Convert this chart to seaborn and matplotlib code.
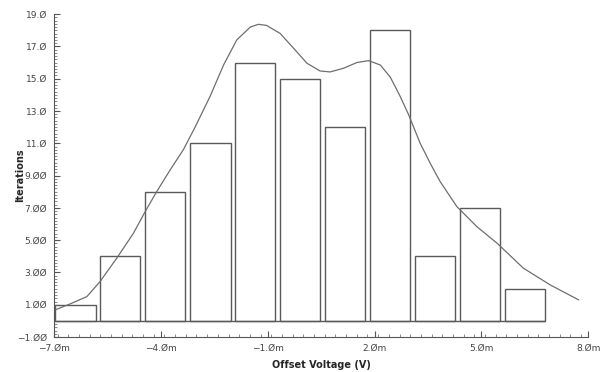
import numpy as np
import pandas as pd
import matplotlib
matplotlib.use("Agg")
import matplotlib.pyplot as plt
from matplotlib.ticker import MultipleLocator, FixedLocator
import seaborn as sns

# histogram bins (mV) and counts
bin_centers = [-6.40, -5.14, -3.88, -2.61, -1.35, -0.09, 1.17, 2.43, 3.70, 4.96, 6.22]
counts = [1, 4, 8, 11, 16, 15, 12, 18, 4, 7, 2]
bar_frac = 0.9

# fitted density curve
curve_x = [-6.97, -6.55, -6.08, -5.71, -5.24, -4.77, -4.44, -4.12, -3.74, -3.37,
           -3.04, -2.62, -2.24, -1.87, -1.49, -1.26, -1.03, -0.65, -0.28, 0.10,
           0.47, 0.75, 1.13, 1.50, 1.83, 2.16, 2.44, 2.72, 2.95, 3.28,
           3.56, 3.84, 4.31, 4.87, 5.44, 6.18, 6.93, 7.73]
curve_y = [0.68, 1.05, 1.50, 2.43, 3.88, 5.43, 6.77, 8.00, 9.35, 10.6,
           12.0, 13.9, 15.85, 17.4, 18.2, 18.37, 18.3, 17.8, 16.9, 15.96,
           15.48, 15.42, 15.65, 16.0, 16.12, 15.85, 15.1, 13.9, 12.8, 11.0,
           9.77, 8.63, 7.08, 5.84, 4.81, 3.26, 2.23, 1.30]

x_ticks = [-7, -4, -1, 2, 5, 8]
x_labels = ["\u22127.\u00d8m", "\u22124.\u00d8m", "\u22121.\u00d8m", "2.\u00d8m", "5.\u00d8m", "8.\u00d8m"]
y_ticks = [-1, 1, 3, 5, 7, 9, 11, 13, 15, 17, 19]
y_labels = ["\u22121.\u00d8\u00d8", "1.\u00d8\u00d8", "3.\u00d8\u00d8", "5.\u00d8\u00d8", "7.\u00d8\u00d8",
            "9.\u00d8\u00d8", "11.\u00d8", "13.\u00d8", "15.\u00d8", "17.\u00d8", "19.\u00d8"]

sns.set_style("ticks")
plt.rcParams['font.family'] = ['DejaVu Sans']

fig = plt.figure(figsize=(6.03, 3.72), dpi=100)
ax = fig.add_axes([0.0896, 0.094, 0.886, 0.868])

sns.barplot(x=bin_centers, y=counts, native_scale=True, width=bar_frac, color="white",
            edgecolor="#5a5a5a", linewidth=1.0, ax=ax)

# continuous baseline under the bars
step = np.min(np.diff(bin_centers))
ax.hlines(0, bin_centers[0] - step * bar_frac / 2, bin_centers[-1] + step * bar_frac / 2,
          color="#5a5a5a", linewidth=1.0)

sns.lineplot(x=curve_x, y=curve_y, color="#6e6e6e", linewidth=0.9, ax=ax)

ax.set_xlim(-7, 8)
ax.set_ylim(-1, 19)
ax.xaxis.set_major_locator(FixedLocator(x_ticks))
ax.set_xticklabels(x_labels)
ax.yaxis.set_major_locator(FixedLocator(y_ticks))
ax.set_yticklabels(y_labels)
ax.xaxis.set_minor_locator(MultipleLocator(0.3))
ax.yaxis.set_minor_locator(MultipleLocator(0.2))
ax.tick_params(axis="both", which="major", direction="in", length=4, width=0.8,
               color="#555555", labelsize=6.5, labelcolor="#444444")
ax.tick_params(axis="x", which="major", pad=5)
ax.tick_params(axis="y", which="major", pad=5)
ax.tick_params(axis="both", which="minor", direction="in", length=2, width=0.6, color="#777777")

sns.despine(ax=ax)
for s in ["left", "bottom"]:
    ax.spines[s].set_color("#555555")
    ax.spines[s].set_linewidth(0.8)

ax.set_xlabel("Offset Voltage (V)", fontsize=7, fontweight="bold", labelpad=5)
ax.set_ylabel("Iterations", fontsize=7, fontweight="bold")
ax.yaxis.set_label_coords(-0.054, 0.5)

fig.savefig("out.png", dpi=100)
